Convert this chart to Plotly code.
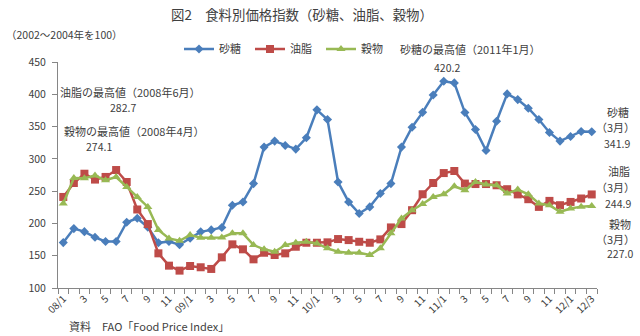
import plotly.graph_objects as go

months = [f"{y:02d}/{m}" for y in (8, 9, 10, 11) for m in range(1, 13)] + ["12/1", "12/2", "12/3"]
tick_labels = ["08/1", "3", "5", "7", "9", "11", "09/1", "3", "5", "7", "9", "11",
               "10/1", "3", "5", "7", "9", "11", "11/1", "3", "5", "7", "9", "11", "12/1", "12/3"]

sugar = [170.3, 192.0, 187.3, 178.6, 171.9, 172.0, 201.8, 208.0, 194.0, 170.0, 172.0, 167.0,
         177.0, 187.0, 190.0, 193.8, 228.2, 233.3, 261.7, 318.2, 327.5, 320.8, 315.1, 332.7,
         375.9, 360.9, 264.2, 233.3, 215.4, 225.6, 246.3, 261.7, 318.2, 349.0, 372.0, 399.0,
         420.2, 417.6, 371.7, 345.5, 313.0, 358.3, 400.6, 391.8, 378.4, 361.0, 340.9, 327.5,
         334.7, 342.4, 341.9]
oils = [241.0, 262.6, 277.0, 267.9, 272.0, 282.7, 264.2, 221.6, 199.0, 153.7, 134.6, 126.9,
        134.1, 132.1, 129.5, 147.5, 167.6, 159.9, 144.4, 154.6, 151.1, 153.7, 163.9, 170.1,
        170.1, 170.7, 175.8, 174.2, 171.6, 170.1, 175.3, 193.8, 199.0, 220.5, 245.2, 262.6,
        278.0, 281.2, 261.7, 261.0, 261.0, 259.1, 253.0, 245.0, 237.5, 225.6, 234.9, 228.2,
        233.3, 238.6, 244.9]
cereals = [230.9, 270.4, 270.0, 274.1, 266.8, 271.9, 256.5, 241.0, 225.6, 189.7, 176.8, 173.2,
           182.0, 177.8, 177.8, 178.4, 184.6, 184.6, 166.5, 159.9, 156.2, 166.5, 170.1, 171.6,
           169.1, 161.4, 156.2, 154.6, 154.6, 151.1, 161.4, 184.6, 207.7, 220.5, 230.0, 241.0,
           245.2, 257.6, 251.4, 264.2, 260.2, 259.1, 246.3, 252.5, 245.2, 231.0, 228.2, 218.0,
           223.0, 226.0, 227.0]

x = list(range(len(months)))
tick_vals = [i for i in x if i % 2 == 0]

FONT = "Noto Sans CJK JP"
TXT = "#404040"

fig = go.Figure()
fig.add_trace(go.Scatter(x=x, y=sugar, name="砂糖", mode="lines+markers",
                         line=dict(color="#4A7EBB", width=2.5),
                         marker=dict(symbol="diamond", size=7, color="#4A7EBB")))
fig.add_trace(go.Scatter(x=x, y=oils, name="油脂", mode="lines+markers",
                         line=dict(color="#BE4B48", width=2.5),
                         marker=dict(symbol="square", size=8, color="#BE4B48")))
fig.add_trace(go.Scatter(x=x, y=cereals, name="穀物", mode="lines+markers",
                         line=dict(color="#98B954", width=2.5),
                         marker=dict(symbol="triangle-up", size=8, color="#98B954")))

L, R, T, B = 58, 597, 62, 288
W, H = R - L, B - T


def px(v):
    return (v - L) / W


def py(v):
    return (B - v) / H


def ann(text, xpix, ypix, size=11, xanchor="center"):
    fig.add_annotation(text=text, x=px(xpix), y=py(ypix), xref="paper", yref="paper",
                       showarrow=False, xanchor=xanchor, yanchor="middle",
                       font=dict(family=FONT, size=size, color=TXT))


ann("図2　食料別価格指数（砂糖、油脂、穀物）", 302, 14, size=13.4)
ann("（2002～2004年を100）", 4, 35, size=10.5, xanchor="left")
ann("砂糖の最高値（2011年1月）", 398, 49, size=11, xanchor="left")
ann("420.2", 447, 67, size=10.5)
ann("油脂の最高値（2008年6月）", 130, 92, size=11)
ann("282.7", 123, 107, size=10.5)
ann("穀物の最高値（2008年4月）", 134, 131, size=11)
ann("274.1", 99, 146, size=10.5)
ann("砂糖", 618, 112, size=11)
ann("（3月）", 615, 127.5, size=11)
ann("341.9", 617, 143, size=10.5)
ann("油脂", 619, 171, size=11)
ann("（3月）", 615, 186.5, size=11)
ann("244.9", 618, 203, size=10.5)
ann("穀物", 620, 224, size=11)
ann("（3月）", 615, 238.5, size=11)
ann("227.0", 620, 253, size=10.5)
ann("資料　FAO「Food Price Index」", 67, 326, size=11, xanchor="left")

fig.update_layout(
    width=640, height=336,
    margin=dict(l=L, r=640 - R, t=T, b=336 - B),
    paper_bgcolor="white", plot_bgcolor="white",
    font=dict(family=FONT, size=10, color=TXT),
    showlegend=True,
    legend=dict(orientation="h", x=px(179), y=py(49), xanchor="left", yanchor="middle",
                font=dict(family=FONT, size=11, color=TXT),
                itemwidth=30, entrywidth=26, entrywidthmode="pixels",
                bgcolor="rgba(0,0,0,0)"),
    xaxis=dict(range=[-0.5, len(x) - 0.5], tickmode="array", tickvals=tick_vals,
               ticktext=tick_labels, tickangle=-45, ticks="", showgrid=False,
               showline=True, linecolor="#868686", linewidth=1, zeroline=False,
               tickfont=dict(family=FONT, size=10, color=TXT),
               minor=dict(tickmode="array", tickvals=[i - 0.5 for i in range(len(x) + 1)],
                          ticks="outside", ticklen=5, tickcolor="#868686", showgrid=False)),
    yaxis=dict(range=[100, 450], tickmode="array", tickvals=[100, 150, 200, 250, 300, 350, 400, 450],
               ticks="outside", ticklen=5, tickcolor="#868686", showgrid=False,
               showline=True, linecolor="#868686", linewidth=1, zeroline=False,
               ticklabelstandoff=4,
               tickfont=dict(family=FONT, size=10.5, color=TXT)),
)

fig.write_html("out.html")
